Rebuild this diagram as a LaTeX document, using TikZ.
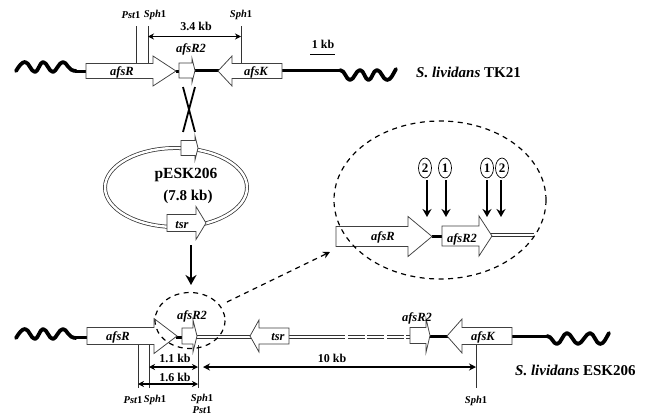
\documentclass[tikz,border=0pt]{standalone}
\usepackage{fontspec}
\setmainfont{Liberation Serif}
\usetikzlibrary{arrows.meta,shapes.geometric}
\tikzset{
 x=1pt,y=-1pt,
 gene/.style={draw=black!75,fill=white,line width=.75pt,line join=miter},
 thickline/.style={line width=3pt,black},
 dbl/.style={draw=black!80,line width=.75pt,double=white,double distance=2.4pt},
 wave/.style={line width=3.8pt,line cap=round,line join=round},
 site/.style={draw=black!80,line width=.75pt},
 dim/.style={line width=1.3pt,{Stealth[length=6pt,width=6pt]}-{Stealth[length=6pt,width=6pt]}},
 bigarr/.style={line width=1.8pt,-{Stealth[length=8pt,width=9pt]}},
 gl/.style={inner sep=0pt,font=\fontsize{12.5}{13}\selectfont\bfseries\itshape},
 rs/.style={inner sep=0pt,font=\fontsize{10.5}{11}\selectfont\bfseries\itshape},
 kb/.style={inner sep=0pt,font=\fontsize{12}{13}\selectfont\bfseries},
 ttl/.style={inner sep=0pt,anchor=west,font=\fontsize{15}{16}\selectfont\bfseries},
 num/.style={draw=black,line width=.7pt,ellipse,minimum width=13pt,minimum height=20pt,inner sep=0pt,font=\fontsize{13}{14}\selectfont\bfseries},
 zoomc/.style={draw=black,line width=1.2pt,dash pattern=on 5pt off 4.5pt},
}
\newcommand{\genearrow}[6]{% tail x, head base x, tip x, y centre, half tail, half head
 \draw[gene] (#1,#4-#5) -- (#2,#4-#5) -- (#2,#4-#6) -- (#3,#4) -- (#2,#4+#6) -- (#2,#4+#5) -- (#1,#4+#5) -- cycle;}
\begin{document}
\begin{tikzpicture}
\useasboundingbox (0,0) rectangle (651,416);
\fill[white] (0,0) rectangle (651,416);
% ---- top row
\draw[wave] (16,71) .. controls (19,66) and (22,62) .. (25,62) .. controls (29,62) and (31,72) .. (35,72) .. controls (38,72) and (40,62) .. (43,62) .. controls (47,62) and (49,72) .. (53,72) .. controls (56,72) and (59,62) .. (63,62) .. controls (67,62) and (68,71) .. (76,71);
\draw[thickline] (76,71) -- (88,71);
\draw[thickline] (176,71) -- (180,71);
\draw[thickline] (194,70.5) -- (340,70.5);
\draw[wave] (340,70) .. controls (345,70) and (346,80) .. (350,80) .. controls (354,80) and (356,70) .. (360,70) .. controls (364,70) and (365,80) .. (368.5,80) .. controls (372,80) and (373,70) .. (377,70) .. controls (381,70) and (383,80) .. (387,80) .. controls (391,80) and (393,74) .. (396,69);
\genearrow{86}{153}{176}{71}{7.5}{15}
\genearrow{179}{192}{195}{70.5}{7.5}{12}
\genearrow{282}{232}{218}{71}{7.5}{15}
\node[gl] (afsR1) at (122,72) {afsR};
\node[gl] (afsK1) at (256,72) {afsK};
\node[gl] (afsR2a) at (191,49) {afsR2};
\draw[site] (136.5,26) -- (136.5,63);
\draw[site] (148,26) -- (148,63);
\draw[site] (241,26) -- (241,63);
\node[rs] (pst1) at (131,15) {Pst{\upshape 1}};
\node[rs] (sph1) at (155,15) {Sph{\upshape 1}};
\node[rs] (sph2) at (241,15) {Sph{\upshape 1}};
\draw[dim] (148,36.5) -- (241,36.5);
\node[kb] (k34) at (196,26) {3.4 kb};
\draw[line width=1.6pt] (310,54.5) -- (335,54.5);
\node[kb] (k1) at (323,44) {1 kb};
\node[ttl] (t1) at (416,72) {\textit{S. lividans} TK21};
% crossover
\draw[line width=1.8pt] (183,87) -- (195,132);
\draw[line width=1.8pt] (195,87) -- (183,132);
% ---- plasmid
\draw[dbl] (176,187.5) ellipse [x radius=71,y radius=39.5];
\genearrow{181}{195}{198}{148}{7.5}{12}
\genearrow{167}{196}{206}{223}{8.5}{16.5}
\node[gl] (tsr1) at (182,225) {tsr};
\node[inner sep=0pt,font=\fontsize{15.5}{16}\selectfont\bfseries] (p1) at (186,175) {pESK206};
\node[inner sep=0pt,font=\fontsize{15}{16}\selectfont\bfseries] (p2) at (188,197) {(7.8 kb)};
\draw[line width=2.4pt,-{Stealth[length=10pt,width=11pt]}] (191,245) -- (191,285);
% ---- bottom row
\draw[wave] (16,338) .. controls (19,333) and (22,329) .. (25,329) .. controls (29,329) and (31,339) .. (35,339) .. controls (38,339) and (40,329) .. (43,329) .. controls (47,329) and (49,339) .. (53,339) .. controls (56,339) and (59,329) .. (63,329) .. controls (67,329) and (68,338) .. (76,338);
\draw[thickline] (76,337.5) -- (88,337.5);
\draw[thickline] (176,337) -- (183,337);
\draw[dbl] (194,337) -- (252,337);
\draw[dbl] (288,337) -- (412,337);
\draw[white,line width=3.4pt,dash pattern=on 2.5pt off 17pt] (345,337) -- (410,337);
\draw[thickline] (428,336.5) -- (448,336.5);
\draw[thickline] (510,336) -- (550,336);
\draw[wave] (547,336) .. controls (552,336) and (553,344) .. (557,344) .. controls (561,344) and (563,333) .. (567,333) .. controls (571,333) and (574,344) .. (578,344) .. controls (582,344) and (586,333) .. (590,333) .. controls (594,333) and (596,344) .. (600,344) .. controls (604,344) and (606,338) .. (609,333);
\genearrow{87}{154}{177}{336}{8.5}{17.5}
\genearrow{182}{193}{197}{336}{8}{16}
\genearrow{289}{259}{250}{336}{8}{16}
\genearrow{410}{426}{430}{335.5}{8}{17}
\genearrow{512}{462}{447}{336}{8.5}{17}
\node[gl] (afsR3) at (118,337) {afsR};
\node[gl] (tsr2) at (278,337) {tsr};
\node[gl] (afsR2b) at (192,316) {afsR2};
\node[gl] (afsR2c) at (417,318) {afsR2};
\node[gl] (afsK2) at (483,337) {afsK};
\draw[site] (138,345) -- (138,388);
\draw[site] (149,345) -- (149,388);
\draw[site] (198,345) -- (198,388);
\draw[site] (476,345) -- (476,388);
\draw[dim] (149,367) -- (198,367);
\draw[dim] (138,384) -- (198,384);
\draw[line width=2pt,{Stealth[length=7pt,width=7pt]}-{Stealth[length=7pt,width=7pt]}] (203,367) -- (476,367);
\node[kb] (k11) at (175,358) {1.1 kb};
\node[kb] (k16) at (175,377) {1.6 kb};
\node[kb] (k10) at (332,358) {10 kb};
\node[rs] (a1) at (133,400) {Pst{\upshape 1}};
\node[rs] (a2) at (155,400) {Sph{\upshape 1}};
\node[rs] (a3) at (202,399) {Sph{\upshape 1}};
\node[rs] (a4) at (202,410) {Pst{\upshape 1}};
\node[rs] (a5) at (476,401) {Sph{\upshape 1}};
\node[ttl] (t2) at (515,370) {\textit{S. lividans} ESK206};
% ---- zoom
\draw[thickline] (432,236) -- (443,236);
\draw[dbl,line width=.75pt,double distance=1.6pt] (490,235) -- (534,235);
\genearrow{336}{408}{432}{236.5}{10}{20}
\genearrow{442}{479}{492}{236}{10}{20}
\node[gl] (afsR4) at (383,237) {afsR};
\node[gl] (afsR2d) at (462,239) {afsR2};
\draw[zoomc] (190,320.5) ellipse [x radius=35,y radius=28];
\coordinate (d1) at (227,302);
\coordinate (d2) at (330,252);
\draw[zoomc,-{Stealth[length=7pt,width=7pt]}] (d1) -- (d2);
\draw[zoomc] (440,200) ellipse [x radius=106,y radius=79];
\node[num] (n1) at (425,168) {2};
\node[num] (n2) at (445,168) {1};
\node[num] (n3) at (487,168) {1};
\node[num] (n4) at (502,168) {2};
\draw[bigarr] (427,180) -- (427,217);
\draw[bigarr] (446,180) -- (446,217);
\draw[bigarr] (487,180) -- (487,217);
\draw[bigarr] (501,180) -- (501,217);
\end{tikzpicture}
\end{document}
